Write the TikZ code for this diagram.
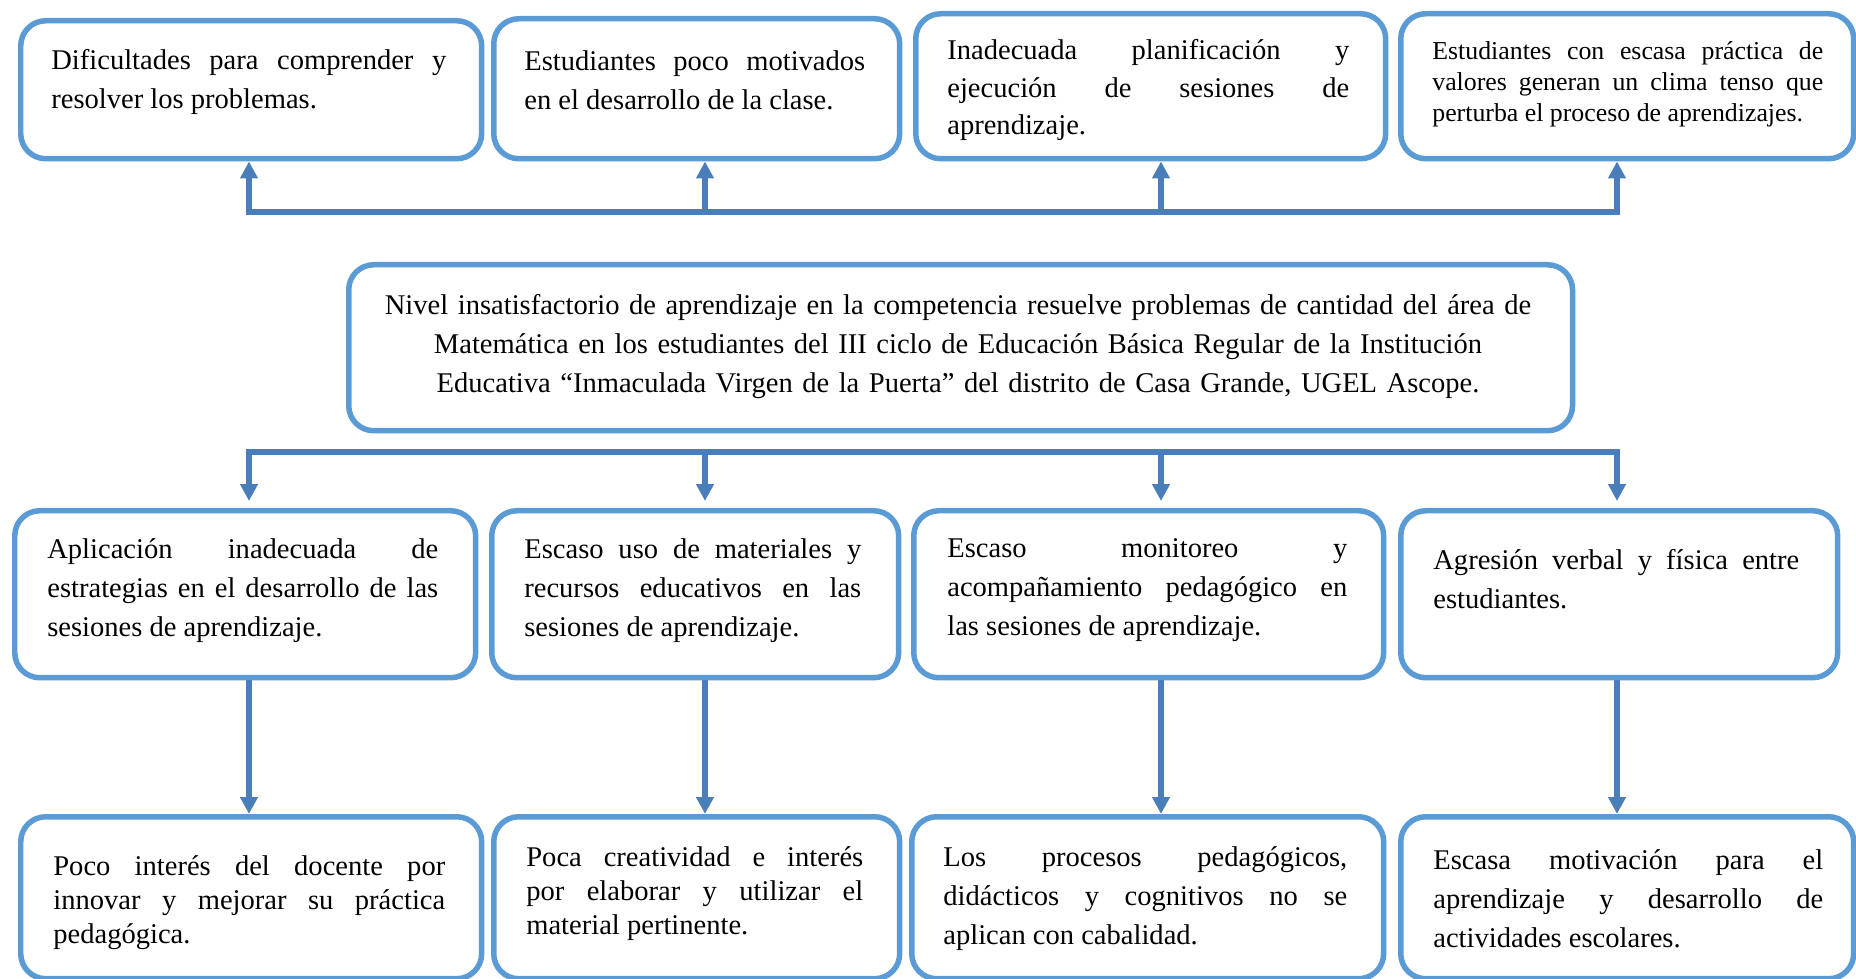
\documentclass[tikz,border=0pt]{standalone}
\usepackage{fontspec}
\setmainfont{Liberation Serif}
\usetikzlibrary{arrows.meta}
\definecolor{boxblue}{RGB}{91,155,213}
\definecolor{arrblue}{RGB}{74,126,187}
\tolerance=10000
\hbadness=10000
\hyphenpenalty=10000
\exhyphenpenalty=10000
\begin{document}
\begin{tikzpicture}[x=0.02cm, y=-0.02cm]
    \tikzstyle{arrow} = [-{Triangle[length=0.34cm,width=0.34cm]}, draw=arrblue, line width=0.12cm]
    \tikzstyle{bus} = [draw=arrblue, line width=0.12cm, line cap=rect]
    \tikzstyle{rec} = [rectangle, draw=boxblue, line width=0.11cm, rounded corners=0.5cm,
        inner sep=0pt]
    \tikzstyle{txt} = [inner sep=0pt, align=justify, anchor=west,
        font=\fontsize{16.25}{22.2}\selectfont]

    \useasboundingbox (0,0) rectangle (1856,979);

    % efectos
    \node(efe1) [rec, minimum width=9.22cm, minimum height=2.76cm]
        at (18,18) [anchor=north west] {};
    \node(efe1t) [txt, text width=7.9cm] at (51,82)
        {Dificultades para comprender y\linebreak resolver los problemas.};

    \node(efe2) [rec, minimum width=8.12cm, minimum height=2.8cm]
        at (491,16) [anchor=north west] {};
    \node(efe2t) [txt, text width=6.82cm] at (524,80)
        {Estudiantes poco motivados\linebreak en el desarrollo de la clase.};

    \node(efe3) [rec, minimum width=9.4cm, minimum height=2.9cm]
        at (913,11) [anchor=north west] {};
    \node(efe3t) [txt, text width=8.04cm, font=\fontsize{16.25}{21.1}\selectfont]
        at (947,90)
        {Inadecuada planificación y\linebreak ejecución de sesiones de\linebreak aprendizaje.};

    \node(efe4) [rec, minimum width=9.06cm, minimum height=2.9cm]
        at (1398,11) [anchor=north west] {};
    \node(efe4t) [txt, text width=7.82cm, font=\fontsize{14.7}{17.6}\selectfont]
        at (1432,84)
        {Estudiantes con escasa práctica de\linebreak valores generan un clima tenso que\linebreak perturba el proceso de aprendizajes.};

    % problema central
    \node(prob) [rec, minimum width=24.48cm, minimum height=3.32cm]
        at (346,262) [anchor=north west] {};
    \node(probt) [txt, text width=24cm, align=center, anchor=center] at (958,346.5)
        {Nivel insatisfactorio de aprendizaje en la competencia resuelve problemas de cantidad del área de\\
        Matemática en los estudiantes del III ciclo de Educación Básica Regular de la Institución\\
        Educativa “Inmaculada Virgen de la Puerta” del distrito de Casa Grande, UGEL Ascope.};

    % causas
    \node(cau1) [rec, minimum width=9.22cm, minimum height=3.34cm]
        at (12,508) [anchor=north west] {};
    \node(cau1t) [txt, text width=7.82cm] at (47,590.5)
        {Aplicación inadecuada de\linebreak estrategias en el desarrollo de las\linebreak sesiones de aprendizaje.};

    \node(cau2) [rec, minimum width=8.14cm, minimum height=3.34cm]
        at (489,508) [anchor=north west] {};
    \node(cau2t) [txt, text width=6.74cm] at (524,590.5)
        {Escaso uso de materiales y\linebreak recursos educativos en las\linebreak sesiones de aprendizaje.};

    \node(cau3) [rec, minimum width=9.4cm, minimum height=3.34cm]
        at (911,508) [anchor=north west] {};
    \node(cau3t) [txt, text width=8cm] at (947,590.5)
        {Escaso monitoreo y\linebreak acompañamiento pedagógico en\linebreak las sesiones de aprendizaje.};

    \node(cau4) [rec, minimum width=8.74cm, minimum height=3.34cm]
        at (1398,508) [anchor=north west] {};
    \node(cau4t) [txt, text width=7.32cm] at (1433,579)
        {Agresión verbal y física entre\linebreak estudiantes.};

    % subcausas
    \node(sub1) [rec, minimum width=9.22cm, minimum height=3.24cm]
        at (18,814) [anchor=north west] {};
    \node(sub1t) [txt, text width=7.84cm, font=\fontsize{16.25}{19.4}\selectfont]
        at (53,903)
        {Poco interés del docente por\linebreak innovar y mejorar su práctica\linebreak pedagógica.};

    \node(sub2) [rec, minimum width=8.12cm, minimum height=3.24cm]
        at (491,814) [anchor=north west] {};
    \node(sub2t) [txt, text width=6.74cm, font=\fontsize{16.25}{19.4}\selectfont]
        at (526,893.5)
        {Poca creatividad e interés\linebreak por elaborar y utilizar el\linebreak material pertinente.};

    \node(sub3) [rec, minimum width=9.44cm, minimum height=3.24cm]
        at (909,814) [anchor=north west] {};
    \node(sub3t) [txt, text width=8.08cm] at (943,898.5)
        {Los procesos pedagógicos,\linebreak didácticos y cognitivos no se\linebreak aplican con cabalidad.};

    \node(sub4) [rec, minimum width=9.06cm, minimum height=3.24cm]
        at (1398,814) [anchor=north west] {};
    \node(sub4t) [txt, text width=7.8cm] at (1433,898.5)
        {Escasa motivación para el\linebreak aprendizaje y desarrollo de\linebreak actividades escolares.};

    % lineas
    \coordinate (k1) at (249,212);
    \coordinate (k2) at (705,212);
    \coordinate (k3) at (1161,212);
    \coordinate (k4) at (1617,212);
    \coordinate (j1) at (249,452);
    \coordinate (j2) at (705,452);
    \coordinate (j3) at (1161,452);
    \coordinate (j4) at (1617,452);

    \draw[bus] (k1) -- (k4);
    \draw[arrow] (k1) -- (k1 |- efe1.south);
    \draw[arrow] (k2) -- (k2 |- efe2.south);
    \draw[arrow] (k3) -- (k3 |- efe3.south);
    \draw[arrow] (k4) -- (k4 |- efe4.south);

    \draw[bus] (j1) -- (j4);
    \draw[arrow, shorten >=0.14cm] (j1) -- (j1 |- cau1.north);
    \draw[arrow, shorten >=0.14cm] (j2) -- (j2 |- cau2.north);
    \draw[arrow, shorten >=0.14cm] (j3) -- (j3 |- cau3.north);
    \draw[arrow, shorten >=0.14cm] (j4) -- (j4 |- cau4.north);

    \draw[arrow] (j1 |- cau1.south) -- (j1 |- sub1.north);
    \draw[arrow] (j2 |- cau2.south) -- (j2 |- sub2.north);
    \draw[arrow] (j3 |- cau3.south) -- (j3 |- sub3.north);
    \draw[arrow] (j4 |- cau4.south) -- (j4 |- sub4.north);
\end{tikzpicture}
\end{document}
